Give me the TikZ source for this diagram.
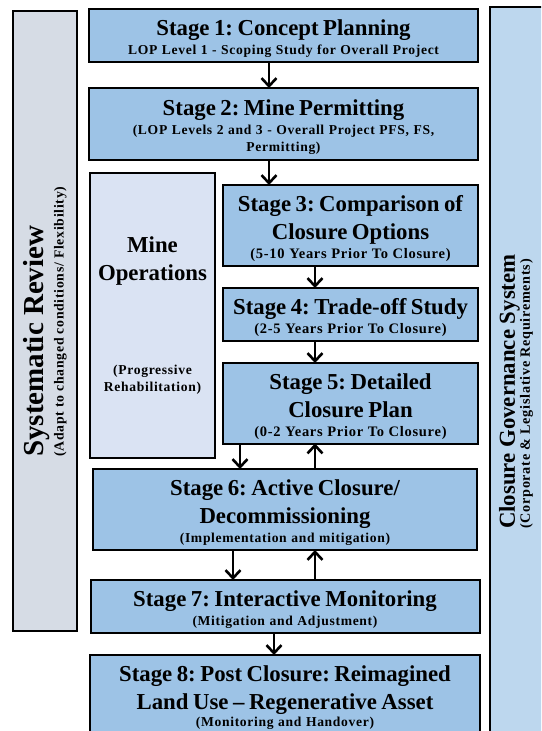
\documentclass[tikz,border=0pt]{standalone}
\usepackage{fontspec}
\setmainfont{Liberation Serif}
\newfontfamily\subfamily{Liberation Serif}[LetterSpace=5]
\usetikzlibrary{arrows.meta,positioning,calc}
\frenchspacing
\definecolor{stagefill}{RGB}{157,195,230}
\definecolor{opsfill}{RGB}{218,227,243}
\definecolor{reviewfill}{RGB}{214,220,229}
\definecolor{govfill}{RGB}{189,215,238}
\newcommand{\sttl}{\rmfamily\bfseries\fontsize{22.8}{27.5}\selectfont}
\newcommand{\ssub}{\subfamily\bfseries\fontsize{13.6}{17}\selectfont}
\newcommand{\ssubl}{\subfamily\bfseries\fontsize{14.5}{17}\selectfont}
\tikzset{
  stagebox/.style={draw, line width=2pt, fill=stagefill, align=center, inner sep=0pt,
                   outer sep=0pt, font=\ssub, minimum height=53pt,
                   execute at begin node={\rule{0pt}{26.5pt}},
                   execute at end node={\rule[-7.5pt]{0pt}{0pt}}},
  opsbox/.style={draw, line width=2pt, fill=opsfill, align=center, inner sep=0pt,
                 outer sep=0pt, font=\ssub, text width=125pt, minimum height=285pt},
  sidebar/.style={draw, line width=2pt, inner sep=0pt, outer sep=0pt},
  sidetext/.style={rotate=90, anchor=west, align=left, inner sep=0pt},
  flowarrow/.style={-{Straight Barb[length=8pt,width=15pt]}, line width=2.6pt}
}

\begin{document}
\begin{tikzpicture}[x=1pt, y=-1pt]
\useasboundingbox (0,0) rectangle (541,731);
\clip (0,0) rectangle (541,731);
% side bars
\node[sidebar, fill=reviewfill, minimum width=64pt, minimum height=620pt] (review) at (45,321) {};
\node[sidetext, font=\bfseries\subfamily\fontsize{13.8}{20}\selectfont] (reviewtext) at (45,457)
  {{\rmfamily\fontsize{29}{33}\selectfont Systematic Review}\\ (Adapt to changed conditions/ Flexibility)};
\node[sidebar, fill=govfill, minimum width=80pt, minimum height=760pt] (gov) at (530,387) {};
\node[sidetext, font=\bfseries\subfamily\fontsize{14.2}{15}\selectfont] (govtext) at (516,529)
  {{\rmfamily\fontsize{22.8}{26}\selectfont Closure Governance System}\\ (Corporate \& Legislative Requirements)};
% stages
\node[stagebox, text width=389pt] (s1) at (283.5,35.5)
  {\sttl Stage 1: Concept Planning\\[2pt] \ssub LOP Level 1 - Scoping Study for Overall Project};
\node[stagebox, text width=389pt, minimum height=72pt, below=26pt of s1] (s2)
  {\sttl Stage 2: Mine Permitting\\[2pt] \ssub (LOP Levels 2 and 3 - Overall Project PFS, FS,\\ Permitting)};
\node[opsbox] (ops) at (152.5,315.5)
  {\sttl Mine\\ Operations\\[77pt] \ssub (Progressive\\ Rehabilitation)};
\node[stagebox, text width=255pt, minimum height=81pt] (s3) at (350.5,225.5)
  {\sttl Stage 3: Comparison of\\ Closure Options\\[2pt] \ssubl (5-10 Years Prior To Closure)};
\node[stagebox, text width=255pt, below=22pt of s3] (s4)
  {\sttl Stage 4: Trade-off Study\\[2pt] \ssubl (2-5 Years Prior To Closure)};
\node[stagebox, text width=255pt, minimum height=80pt, below=22pt of s4] (s5)
  {\sttl Stage 5: Detailed\\ Closure Plan\\[2pt] \ssubl (0-2 Years Prior To Closure)};
\node[stagebox, text width=384pt, minimum height=81pt] (s6) at (285,509.5)
  {\sttl Stage 6: Active Closure/\\ Decommissioning\\[2pt] \ssub (Implementation and mitigation)};
\node[stagebox, text width=389pt, below=30pt of s6] (s7)
  {\sttl Stage 7: Interactive Monitoring\\[2pt] \ssub (Mitigation and Adjustment)};
\node[stagebox, text width=390pt, minimum height=78pt, below=22pt of s7] (s8)
  {\sttl Stage 8: Post Closure: Reimagined\\ Land Use \textendash{} Regenerative Asset\\ \ssub (Monitoring and Handover)};
% arrow columns
\coordinate (colA) at (269,0);
\coordinate (colB) at (315,0);
\coordinate (colC) at (240,0);
\coordinate (colD) at (233,0);
\coordinate (colE) at (274,0);
\draw[flowarrow] (s1.south -| colA) -- (s2.north -| colA);
\draw[flowarrow] (s2.south -| colA) -- (s3.north -| colA);
\draw[flowarrow] (s3.south -| colB) -- (s4.north -| colB);
\draw[flowarrow] (s4.south -| colB) -- (s5.north -| colB);
\draw[flowarrow] (s5.south -| colC) -- (s6.north -| colC);
\draw[flowarrow] (s6.north -| colB) -- (s5.south -| colB);
\draw[flowarrow] (s6.south -| colD) -- (s7.north -| colD);
\draw[flowarrow] (s7.north -| colB) -- (s6.south -| colB);
\draw[flowarrow] (s7.south -| colE) -- (s8.north -| colE);
\end{tikzpicture}
\end{document}
